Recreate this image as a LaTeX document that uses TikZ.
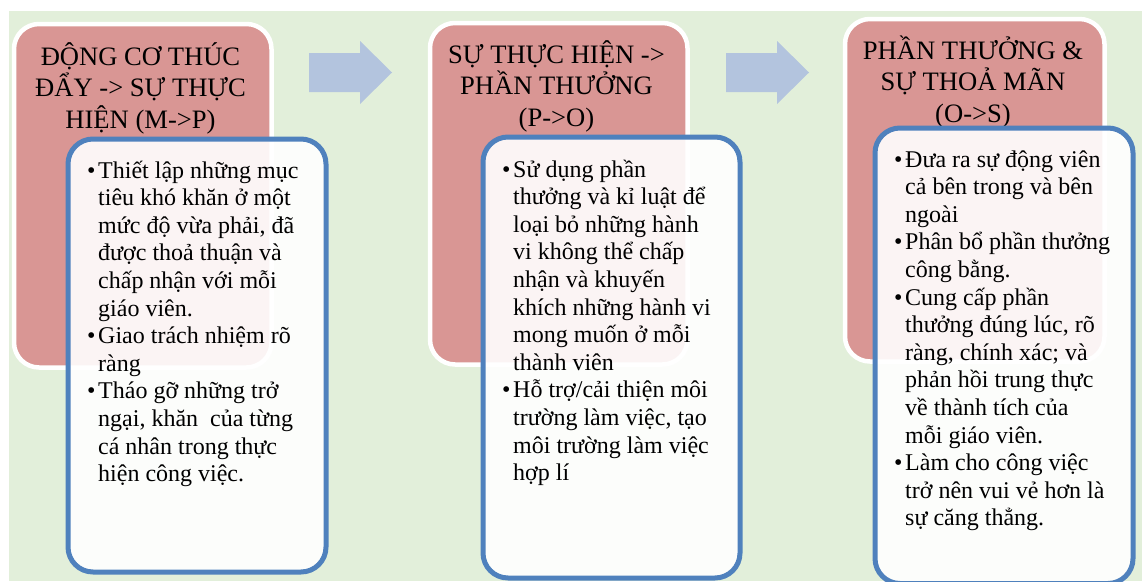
\documentclass[tikz,border=0pt]{standalone}
\usepackage{fontspec}
\setmainfont{Liberation Serif}
\definecolor{bggreen}{RGB}{226,239,218}
\definecolor{boxred}{RGB}{217,150,148}
\definecolor{boxblue}{RGB}{79,129,189}
\definecolor{arrowblue}{RGB}{179,196,222}
\newcommand\itemdot{\makebox[11pt][l]{\textbullet}}
\newcommand\itemgap{\hspace*{11pt}}
\newcommand\fixlines{\lineskiplimit=-100pt\relax}
\tikzset{
  redbox/.style={fill=boxred, draw=white, line width=4.5pt, rounded corners=25pt, anchor=north west, inner sep=0pt},
  bluebox/.style={fill=white, fill opacity=0.9, draw=boxblue, line width=5pt, rounded corners=25pt, anchor=north west, inner sep=0pt},
  arrowshape/.style={fill=arrowblue, draw=none},
  titletext/.style={anchor=base, inner sep=0pt, font=\fontsize{26.6}{31.5}\selectfont},
  listtext/.style={anchor=base west, inner sep=0pt, font=\fontsize{24}{27.6}\selectfont},
}
\begin{document}
\begin{tikzpicture}[x=1pt,y=-1pt]
\useasboundingbox (0,0) rectangle (1142,581);
\fill[white] (0,0) rectangle (1142,581);
\fill[bggreen] (9,11) rectangle (1142,581);

% red title boxes
\node[redbox, minimum width=257.5pt, minimum height=343.5pt] (r1) at (11.75,21.75) {};
\node[redbox, minimum width=257.5pt, minimum height=341.5pt] (r2) at (427.75,20.75) {};
\node[redbox, minimum width=259.5pt, minimum height=342.5pt] (r3) at (842.75,16.75) {};

% arrows
\fill[arrowshape] (309,53) -- (360,53) -- (360,41) -- (392,72.5) -- (360,104) -- (360,92) -- (309,92) -- cycle;
\fill[arrowshape] (726,53) -- (777,53) -- (777,41) -- (809,72.5) -- (777,104) -- (777,92) -- (726,92) -- cycle;

% titles
\node[titletext] (t1) at (140.5,65) {\parbox[t]{250pt}{\fixlines\centering ĐỘNG CƠ THÚC\\ĐẨY -> SỰ THỰC\\HIỆN (M->P)}};
\node[titletext] (t2) at (556.5,63) {\parbox[t]{250pt}{\fixlines\centering SỰ THỰC HIỆN ->\\PHẦN THƯỞNG\\(P->O)}};
\node[titletext] (t3) at (973,59) {\parbox[t]{250pt}{\fixlines\centering PHẦN THƯỞNG \&\\SỰ THOẢ MÃN\\(O->S)}};

% blue content boxes
\node[bluebox, minimum width=258pt, minimum height=433pt] (b1) at (65.5,136.5) {};
\node[bluebox, minimum width=257pt, minimum height=441pt] (b2) at (480.5,134.5) {};
\node[bluebox, minimum width=258pt, minimum height=455.5pt] (b3) at (872.5,125.5) {};

% lists
\node[listtext] (l1) at (87,178) {\parbox[t]{236pt}{\fixlines\raggedright
\itemdot Thi^^^^1ebft l^^^^1eadp nh^^^^1eefng m^^^^1ee5c\\
\itemgap tiêu khó khăn ở một\\
\itemgap mức độ vừa phải, đã\\
\itemgap được thoả thuận và\\
\itemgap chấp nhận với mỗi\\
\itemgap giáo viên.\\
\itemdot Giao trách nhiệm rõ\\
\itemgap ràng\\
\itemdot Tháo gỡ những trở\\
\itemgap ngại, khăn\ \ của từng\\
\itemgap cá nhân trong thực\\
\itemgap hiện công việc.}};

\node[listtext] (l2) at (502,177) {\parbox[t]{236pt}{\fixlines\raggedright
\itemdot Sử dụng phần\\
\itemgap thưởng và kỉ luật để\\
\itemgap loại bỏ những hành\\
\itemgap vi không thể chấp\\
\itemgap nhận và khuyến\\
\itemgap khích những hành vi\\
\itemgap mong muốn ở mỗi\\
\itemgap thành viên\\
\itemdot Hỗ trợ/cải thiện môi\\
\itemgap trường làm việc, tạo\\
\itemgap môi trường làm việc\\
\itemgap hợp lí}};

\node[listtext] (l3) at (894,167) {\parbox[t]{236pt}{\fixlines\raggedright
\itemdot Đưa ra sự động viên\\
\itemgap cả bên trong và bên\\
\itemgap ngoài\\
\itemdot Phân bổ phần thưởng\\
\itemgap công bằng.\\
\itemdot Cung cấp phần\\
\itemgap thưởng đúng lúc, rõ\\
\itemgap ràng, chính xác; và\\
\itemgap phản hồi trung thực\\
\itemgap về thành tích của\\
\itemgap mỗi giáo viên.\\
\itemdot Làm cho công việc\\
\itemgap trở nên vui vẻ hơn là\\
\itemgap sự căng thẳng.}};
\end{tikzpicture}
\end{document}
